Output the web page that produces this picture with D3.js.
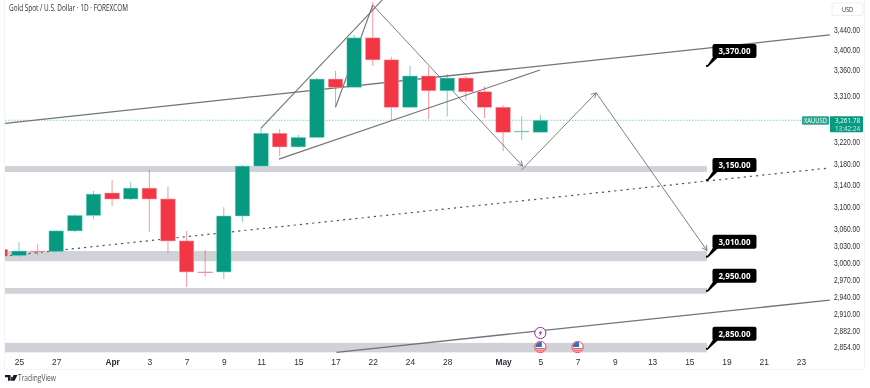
<!DOCTYPE html>
<html>
<head>
<meta charset="utf-8">
<script src="https://cdn.jsdelivr.net/npm/d3@7"></script>
<style>
  html, body { margin: 0; padding: 0; background: #fff; overflow: hidden; }
  svg { display: block; font-family: "Open Sans", sans-serif; filter: blur(0.35px); }
  .tick text { fill: #2a2e39; font-size: 8.4px; }
  .month text { font-weight: 700; }
</style>
</head>
<body>
<div id="chart"></div>
<script>
///////////////////////////////// Data /////////////////////////////////
// first candle is the cut-off one at the left edge (bar -1)
const firstBar = -1;
const opens  = [3023,3012,3020,3019,3056,3084,3125,3114,3134,3114,3038,2983,2983,3083,3175,3237,3211,3229,3342,3326,3424,3380,3287,3348,3319,3344,3317,3287,3240,3239];
const highs  = [3025,3036,3032,3057,3087,3129,3149,3145,3168,3137,3056,3022,3099,3177,3247,3245,3234,3344,3358,3430,3497,3386,3368,3366,3352,3348,3328,3291,3270,3272];
const lows   = [3009,3010,3013,3018,3054,3078,3101,3112,3054,3017,2957,2974,2971,3072,3174,3194,3210,3228,3287,3325,3368,3262,3286,3264,3269,3301,3266,3203,3224,3238];
const closes = [3011,3020,3019,3056,3084,3123,3114,3134,3114,3038,2983,2982,3083,3175,3237,3211,3229,3342,3326,3424,3380,3287,3348,3319,3344,3317,3287,3239,3241,3261.78];

const priceTicks = [3440,3400,3360,3310,3220,3180,3140,3100,3060,3030,3000,2970,2940,2910,2882,2854];
const dateBars   = [0,2,5,7,9,11,13,15,17,19,21,23,26,28,30,32,34,36,38,40,42];
const dateLabels = ["25","27","Apr","3","7","9","11","15","17","22","24","28","May","5","7","9","13","15","19","21","23"];
const monthLabels = ["Apr","May"];

const lastPrice = 3261.78;
const countdown = "13:42:24";

// support bands [top price, bottom price], all run to the same bar
const bands = [[3175,3164],[3020,3002],[2955,2945],[2861,2845]];
const bandEndBar = 36.95;

// drawn lines as [bar, price] pairs
const solidLines = [
  [[-0.75,3256],[43.55,3430]],
  [[17.05,2845],[43.55,2934]],
  [[13,3247],[19.5,3501]],
  [[13.96,3188],[27.98,3360]],
  [[17,3287],[19,3491]]
];
const dottedLine = [[-0.48,3012],[43.4,3171]];
const arrows = [
  [[19,3491],[27.05,3175]],
  [[27,3168],[31,3315]],
  [[31,3315],[36.95,3021]]
];

const calloutPrices = [3370,3150,3010,2950,2850];
const calloutAnchors = [3368,3149,3010,2950,2851];
const calloutBar = 36.95;

const flagBars = [28,30];
const boltBars = [28];

//////////////////////////////////// Set-Up ////////////////////////////////////
const width = 870, height = 388;
const pane = {left: 5, right: 833, top: 0, bottom: 357};
const green = "#089981", red = "#f23645", lineCol = "#72737b";

const x = d3.scaleLinear().domain([0, 42]).range([19, 801]);
const y = d3.scaleLog().domain([2854, 3440]).range([347, 30]);
const bodyW = 14.5;

const candles = opens.map((o, i) => ({bar: firstBar + i, o, h: highs[i], l: lows[i], c: closes[i]}));
const pt = d => [x(d[0]), y(d[1])];

const svg = d3.select("#chart").append("svg")
    .attr("width", width).attr("height", height);

const defs = svg.append("defs");
defs.append("clipPath").attr("id", "paneClip").append("rect")
    .attr("x", pane.left).attr("y", pane.top)
    .attr("width", pane.right - pane.left).attr("height", pane.bottom - pane.top);

// faint frame of the widget
svg.append("rect").attr("x", 0).attr("y", 0).attr("width", width).attr("height", height).attr("fill", "#fff");
svg.append("path").attr("d", "M4.5,0V369.5H864.5V0").attr("fill", "none").attr("stroke", "#f3f4f6");

const plot = svg.append("g").attr("clip-path", "url(#paneClip)");

//////////////////////////////////// Bands /////////////////////////////////////
plot.selectAll("rect.band").data(bands).enter().append("rect")
    .attr("class", "band")
    .attr("x", pane.left)
    .attr("y", d => y(d[0]))
    .attr("width", x(bandEndBar) - pane.left)
    .attr("height", d => y(d[1]) - y(d[0]))
    .attr("fill", "#d1d2d7");

// last price line
plot.append("line")
    .attr("x1", pane.left).attr("x2", 803)
    .attr("y1", y(lastPrice)).attr("y2", y(lastPrice))
    .attr("stroke", green).attr("stroke-opacity", .45).attr("stroke-dasharray", "1.5 1.5");

//////////////////////////////////// Drawings ///////////////////////////////////
const lineGen = d3.line().x(d => pt(d)[0]).y(d => pt(d)[1]);

plot.selectAll("path.trend").data(solidLines).enter().append("path")
    .attr("class", "trend")
    .attr("d", lineGen)
    .attr("fill", "none")
    .attr("stroke", lineCol)
    .attr("stroke-width", (d, i) => i < 2 ? 1.3 : 1.1);

plot.append("path")
    .attr("d", lineGen(dottedLine))
    .attr("fill", "none")
    .attr("stroke", "#55565c")
    .attr("stroke-width", 1.2)
    .attr("stroke-dasharray", "2.2 4");

const arrowG = plot.selectAll("g.arrow").data(arrows).enter().append("g").attr("class", "arrow");
arrowG.append("path")
    .attr("d", lineGen)
    .attr("fill", "none")
    .attr("stroke", lineCol)
    .attr("stroke-width", 0.9);
// open arrow head
arrowG.append("path")
    .attr("d", d => {
      const a = pt(d[0]), b = pt(d[1]);
      const ang = Math.atan2(b[1] - a[1], b[0] - a[0]), len = 5.5, sp = 0.5;
      const p1 = [b[0] - len * Math.cos(ang - sp), b[1] - len * Math.sin(ang - sp)];
      const p2 = [b[0] - len * Math.cos(ang + sp), b[1] - len * Math.sin(ang + sp)];
      return d3.line()([p1, b, p2]);
    })
    .attr("fill", "none")
    .attr("stroke", lineCol)
    .attr("stroke-width", 0.9);

//////////////////////////////////// Candles ////////////////////////////////////
const candle = plot.selectAll("g.candle").data(candles).enter().append("g").attr("class", "candle");

candle.append("line")
    .attr("x1", d => x(d.bar)).attr("x2", d => x(d.bar))
    .attr("y1", d => y(d.h)).attr("y2", d => y(d.l))
    .attr("stroke", d => d.c >= d.o ? green : red)
    .attr("stroke-opacity", .5);

candle.append("rect")
    .attr("x", d => x(d.bar) - bodyW / 2)
    .attr("y", d => y(Math.max(d.o, d.c)))
    .attr("width", bodyW)
    .attr("height", d => Math.max(0.8, Math.abs(y(d.o) - y(d.c))))
    .attr("fill", d => d.c >= d.o ? green : red)
    .attr("stroke", d => d.c >= d.o ? "#7fd8c8" : "#f9a3ab")
    .attr("stroke-width", 0.5);

//////////////////////////////////// Event icons ////////////////////////////////
const iconY = 347;
boltBars.forEach(b => {
  const g = svg.append("g").attr("transform", `translate(${x(b)},${iconY - 14})`);
  g.append("circle").attr("r", 5.6).attr("fill", "#fff").attr("stroke", "#9c27b0").attr("stroke-width", 1);
  g.append("path").attr("d", "M1.2,-3.6L-1.8,0.5H-0.1L-1.2,3.6L1.8,-0.7H0.1Z").attr("fill", "#9c27b0");
});
flagBars.forEach((b, i) => {
  const g = svg.append("g").attr("transform", `translate(${x(b)},${iconY})`);
  const id = "flag" + i;
  defs.append("clipPath").attr("id", id).append("circle").attr("r", 5);
  const f = g.append("g").attr("clip-path", `url(#${id})`);
  f.append("rect").attr("x", -5).attr("y", -5).attr("width", 10).attr("height", 10).attr("fill", "#fff");
  f.append("rect").attr("x", -5).attr("y", -5).attr("width", 6.5).attr("height", 5).attr("fill", "#2f6fc4");
  f.append("rect").attr("x", -5).attr("y", 1).attr("width", 10).attr("height", 1.5).attr("fill", "#ee5a66");
  f.append("rect").attr("x", -5).attr("y", 3.2).attr("width", 10).attr("height", 1.5).attr("fill", "#ee5a66");
  g.append("circle").attr("r", 5.7).attr("fill", "none").attr("stroke", "#f7525f").attr("stroke-width", 1);
});

//////////////////////////////////// Callouts ///////////////////////////////////
const callout = svg.selectAll("g.callout").data(calloutPrices).enter().append("g")
    .attr("class", "callout")
    .attr("transform", (d, i) => `translate(${x(calloutBar)},${y(calloutAnchors[i])})`);

callout.append("path").attr("d", "M0,0L6,-9H11.5L1,0.8Z").attr("fill", "#000");
callout.append("rect")
    .attr("x", 5.5).attr("y", -22).attr("width", 44).attr("height", 14)
    .attr("rx", 2).attr("fill", "#000");
callout.append("circle").attr("r", 1.1).attr("fill", "#000");
callout.append("text")
    .attr("x", 11.5).attr("y", -11.8)
    .attr("fill", "#fff")
    .attr("textLength", 32).attr("lengthAdjust", "spacingAndGlyphs")
    .style("font-size", "8.8px").style("font-weight", 700)
    .text(d3.format(",.2f"));

//////////////////////////////////// Axes ///////////////////////////////////////
const yAxis = d3.axisRight(y).tickValues(priceTicks).tickSize(0).tickFormat(d3.format(",.2f"));
svg.append("g").attr("transform", "translate(834,0)").call(yAxis)
    .call(g => g.select(".domain").remove())
    .selectAll("text").attr("x", 0)
    .attr("textLength", 26).attr("lengthAdjust", "spacingAndGlyphs");

const xAxis = d3.axisBottom(x).tickValues(dateBars).tickSize(0)
    .tickFormat((d, i) => dateLabels[i]);
svg.append("g").attr("transform", "translate(0,356)").call(xAxis)
    .call(g => g.select(".domain").remove())
    .selectAll(".tick")
    .classed("month", (d, i) => monthLabels.includes(dateLabels[i]));

//////////////////////////////////// Header + labels ////////////////////////////
svg.append("text").attr("x", 9).attr("y", 11)
    .attr("fill", "#2a2e39").style("font-size", "8.2px")
    .attr("textLength", 119).attr("lengthAdjust", "spacingAndGlyphs")
    .text("Gold Spot / U.S. Dollar · 1D · FOREXCOM");

svg.append("rect").attr("x", 832).attr("y", 3).attr("width", 31).attr("height", 12.5).attr("rx", 2)
    .attr("fill", "#fff").attr("stroke", "#eceef2");
svg.append("text").attr("x", 842).attr("y", 12).attr("fill", "#2a2e39").style("font-size", "7.5px")
    .attr("textLength", 11).attr("lengthAdjust", "spacingAndGlyphs").text("USD");

// last price tags
svg.append("rect").attr("x", 802).attr("y", y(lastPrice) - 4).attr("width", 27).attr("height", 8.5).attr("rx", 1).attr("fill", "#2aa58f");
svg.append("text").attr("x", 804).attr("y", y(lastPrice) + 2.8)
    .attr("fill", "#fff").style("font-size", "7px")
    .attr("textLength", 23).attr("lengthAdjust", "spacingAndGlyphs").text("XAUUSD");
svg.append("rect").attr("x", 830).attr("y", y(lastPrice) - 4).attr("width", 33).attr("height", 16).attr("rx", 1).attr("fill", green);
svg.append("text").attr("x", 835).attr("y", y(lastPrice) + 2.2).attr("fill", "#fff").style("font-size", "6.3px")
    .attr("textLength", 25).attr("lengthAdjust", "spacingAndGlyphs")
    .text(d3.format(",.2f")(lastPrice));
svg.append("text").attr("x", 835).attr("y", y(lastPrice) + 10.8).attr("fill", "#d5f0ea").style("font-size", "6.3px")
    .attr("textLength", 25).attr("lengthAdjust", "spacingAndGlyphs")
    .text(countdown);

// TradingView mark
svg.append("path").attr("transform", "translate(5,375)")
    .attr("d", "M0,0H5.5V5.8H3V2.2H0ZM6,1.8a1.3,1.3 0 1 0 0.01,0ZM8.5,0H12.5L9.5,5.8H6Z")
    .attr("fill", "#131722");
svg.append("text").attr("x", 18).attr("y", 381)
    .attr("fill", "#50535e").style("font-size", "8.4px")
    .attr("textLength", 38).attr("lengthAdjust", "spacingAndGlyphs")
    .text("TradingView");
</script>
</body>
</html>
